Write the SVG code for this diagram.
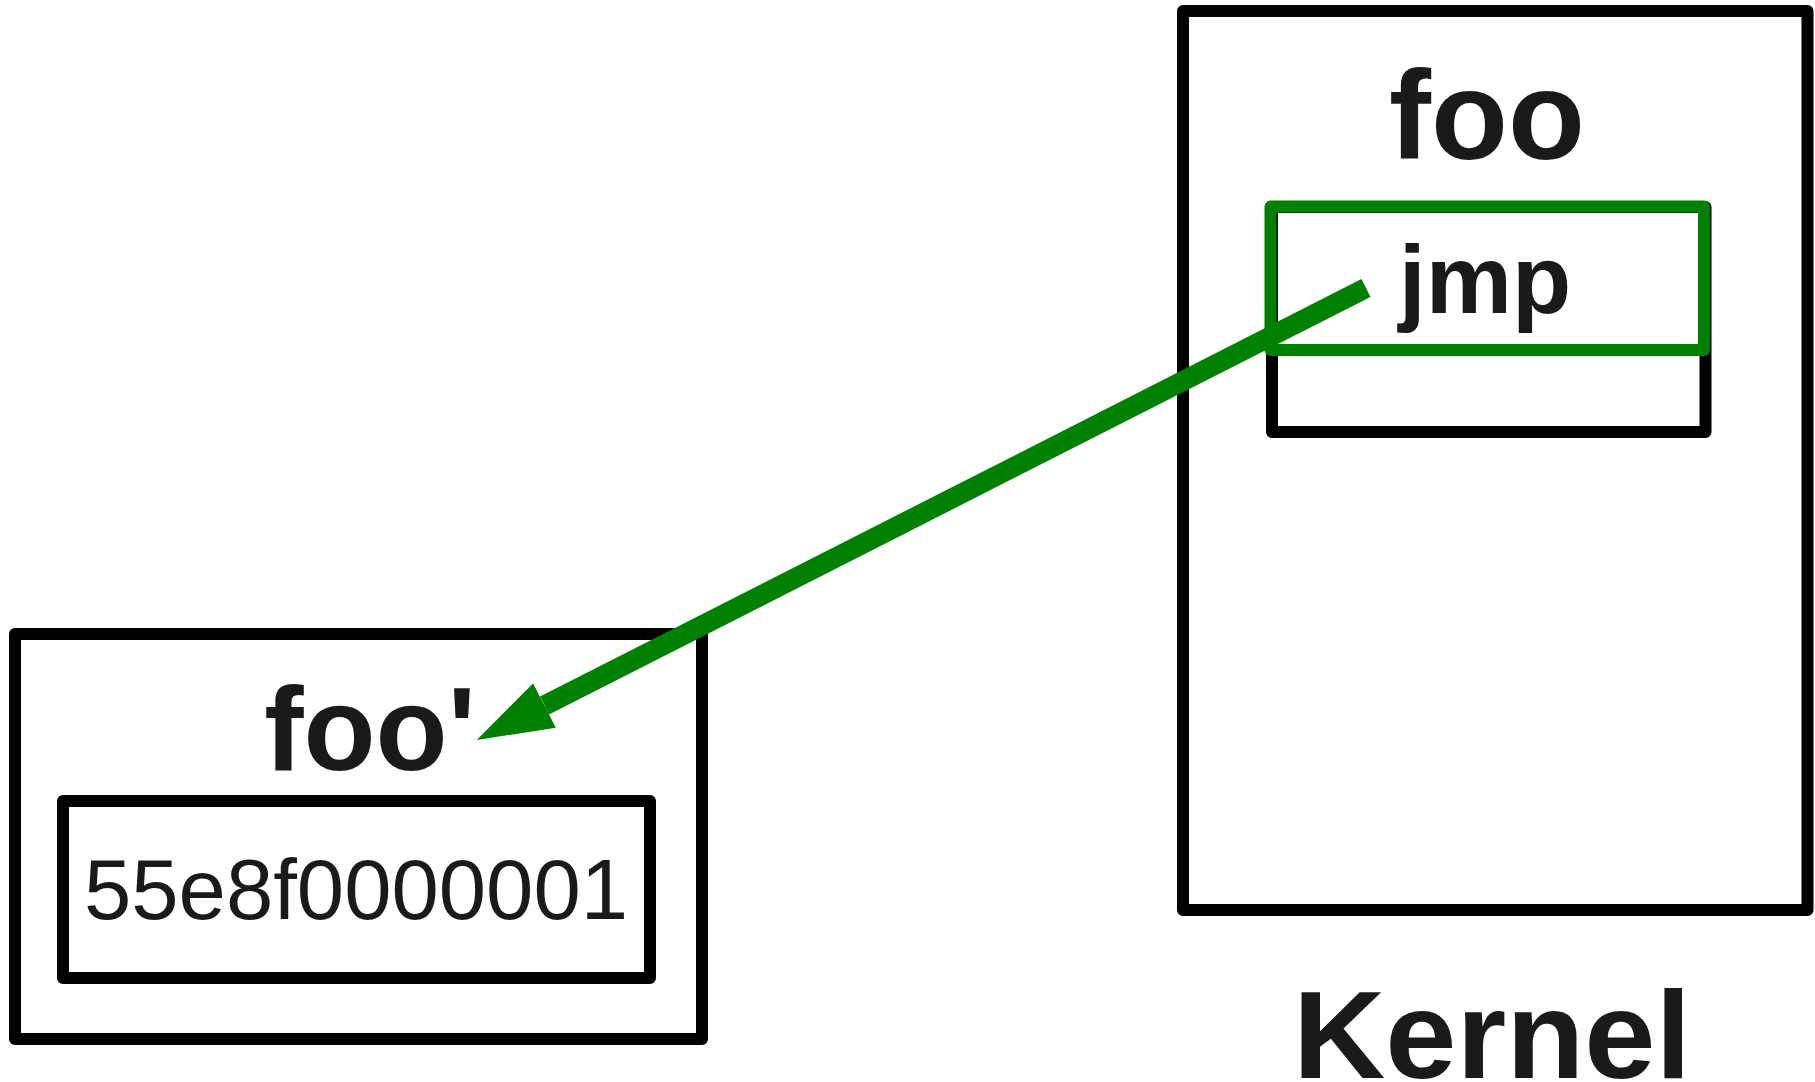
<svg xmlns="http://www.w3.org/2000/svg" width="1815" height="1082" viewBox="0 0 1815 1082">
  <style>
    .box { fill: none; stroke: #000; stroke-width: 12; stroke-linejoin: round; }
    .hl { fill: none; stroke: #008000; stroke-width: 12; stroke-linejoin: round; }
    .title { font-family: "Liberation Sans", Arial, sans-serif; font-weight: bold; fill: #1a1a1a; text-anchor: middle; }
    .code { font-family: "Liberation Sans", Arial, sans-serif; fill: #1a1a1a; text-anchor: middle; }
    .edge { fill: none; stroke: #008000; stroke-width: 20; }
  </style>
  <defs>
    <marker id="head" markerUnits="userSpaceOnUse" viewBox="0 -26 78 52" markerWidth="78" markerHeight="52" refX="0" refY="0" orient="auto">
      <path d="M0,-25 L76,0 L0,25 Z" fill="#008000"/>
    </marker>
  </defs>
  <rect width="1815" height="1082" fill="#fff"/>

  <!-- kernel region with original function -->
  <g id="kernel">
    <rect class="box" x="1183" y="11" width="624.5" height="899"/>
    <text class="title" x="1487" y="159" font-size="126">foo</text>
    <text class="title" x="1492" y="1078" font-size="125" textLength="398" lengthAdjust="spacingAndGlyphs">Kernel</text>
  </g>

  <g id="foo-body">
    <rect class="box" x="1272" y="207" width="433.5" height="225"/>
  </g>

  <g id="jmp">
    <rect class="hl" x="1270.5" y="206.5" width="433.5" height="143.5"/>
    <text class="title" x="1485" y="313" font-size="97">jmp</text>
  </g>

  <!-- patched copy of the function -->
  <g id="foo-prime">
    <rect class="box" x="15" y="634" width="687" height="405"/>
    <text class="title" x="370" y="770" font-size="118">foo'</text>
  </g>

  <g id="bytes">
    <rect class="box" x="63" y="801" width="587" height="177"/>
    <text class="code" x="356" y="919" font-size="86" textLength="544" lengthAdjust="spacingAndGlyphs">55e8f0000001</text>
  </g>

  <g id="connectors">
    <line class="edge" x1="1366" y1="288" x2="544.5" y2="705.5" marker-end="url(#head)"/>
  </g>
</svg>
